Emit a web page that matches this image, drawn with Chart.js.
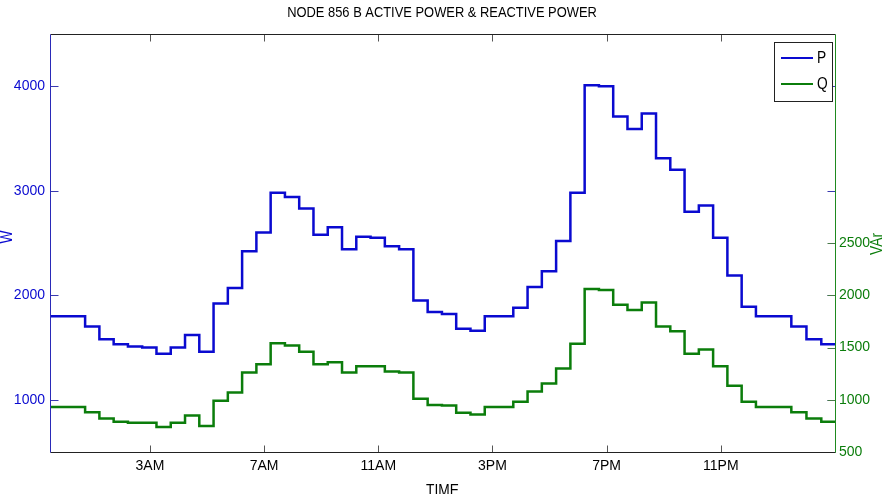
<!DOCTYPE html>
<html>
<head>
<meta charset="utf-8">
<style>
html,body{margin:0;padding:0;background:#fff}
#wrap{width:886px;height:494px}
</style>
<script src="https://cdn.jsdelivr.net/npm/chart.js@4.4.1/dist/chart.umd.min.js"></script>
</head>
<body>
<div id="wrap"><canvas id="c" width="886" height="494"></canvas></div>
<script>
// node 856 B - half-hourly stairs of active (W) and reactive (VAr) power
const stepTimes = [-0.5, 0.73, 1.23, 1.73, 2.23, 2.73, 3.23, 3.73, 4.23, 4.73, 5.23,
  5.73, 6.23, 6.73, 7.23, 7.73, 8.23, 8.73, 9.23, 9.73, 10.23,
  10.73, 11.23, 11.73, 12.23, 12.73, 13.23, 13.73, 14.23, 14.73, 15.23,
  15.73, 16.23, 16.73, 17.23, 17.73, 18.23, 18.73, 19.23, 19.73, 20.23,
  20.73, 21.23, 21.73, 22.23, 22.73, 23.23, 23.73, 24.23,
  25.47, 26.0, 26.52, 27];
const activeP = [1800, 1700, 1580, 1530, 1510, 1500, 1440, 1500, 1620, 1460, 1920,
  2070, 2420, 2600, 2980, 2940, 2830, 2580, 2650, 2440, 2560,
  2550, 2470, 2440, 1950, 1840, 1820, 1680, 1660, 1800, 1800,
  1880, 2080, 2230, 2520, 2980, 4010, 4000, 3710, 3590, 3740,
  3310, 3200, 2800, 2860, 2550, 2190, 1890, 1800,
  1700, 1580, 1530, 1530];
const reactiveQ = [930, 880, 820, 790, 780, 780, 740, 780, 850, 750, 990,
  1070, 1260, 1340, 1540, 1520, 1460, 1340, 1360, 1260, 1320,
  1320, 1270, 1260, 1010, 950, 945, 875, 860, 930, 930,
  980, 1080, 1155, 1300, 1535, 2060, 2050, 1910, 1860, 1930,
  1700, 1655, 1440, 1480, 1320, 1135, 980, 930,
  880, 820, 790, 790];
const hourTicks = [3, 7, 11, 15, 19, 23];
const hourLabels = ['3AM', '7AM', '11AM', '3PM', '7PM', '11PM'];
const wTicks = [1000, 2000, 3000, 4000];
const varTicks = [500, 1000, 1500, 2000, 2500];

const FONT = "'Liberation Sans',Arial,sans-serif";
const BLUE = '#0a0ad0', GREEN = '#0b7d0b';

const toPts = vals => vals.map((v, i) => ({x: stepTimes[i], y: v}));

// text squeezed sideways, the original uses a narrow face
function narrowText(ctx, txt, x, y, rot) {
  ctx.save();
  ctx.translate(x, y);
  if (rot) ctx.rotate(rot);
  ctx.scale(0.86, 1);
  ctx.fillText(txt, 0, 0);
  ctx.restore();
}

const framePlugin = {
  id: 'frame',
  afterDraw(chart) {
    const {ctx, chartArea: a, scales: {x, y, y1}} = chart;
    const line = (x1, y1_, x2, y2, col, w) => {
      ctx.strokeStyle = col; ctx.lineWidth = w || 1;
      ctx.beginPath(); ctx.moveTo(x1, y1_); ctx.lineTo(x2, y2); ctx.stroke();
    };
    ctx.save();
    const L = Math.round(a.left) + 0.5, R = Math.round(a.right) + 0.5;
    const T = Math.round(a.top) + 0.5, B = Math.round(a.bottom) + 0.5;
    // inward ticks
    hourTicks.forEach(v => {
      const px = Math.round(x.getPixelForValue(v)) + 0.5;
      line(px, B, px, B - 7, '#555');
      line(px, T, px, T + 7, '#555');
    });
    wTicks.forEach(v => {
      const py = Math.round(y.getPixelForValue(v)) + 0.5;
      line(L, py, L + 8, py, '#3a3ab0');
      line(R, py, R - 8, py, '#3a3ab0');
    });
    varTicks.forEach(v => {
      const py = Math.round(y1.getPixelForValue(v)) + 0.5;
      line(R, py, R - 8, py, '#4a7a4a');
    });
    // box
    line(L, T, R, T, '#222');
    line(L, B, R, B, '#222');
    line(L, T, L, B, '#2a2ab8');
    line(R, T, R, B, '#1f8a1f');

    // title + axis titles
    ctx.font = '15px ' + FONT;
    ctx.fillStyle = '#000';
    ctx.textAlign = 'center'; ctx.textBaseline = 'middle';
    narrowText(ctx, 'NODE 856 B ACTIVE POWER & REACTIVE POWER', 442, 13);
    ctx.font = '16px ' + FONT;
    ctx.textBaseline = 'alphabetic';
    narrowText(ctx, 'TIME', (a.left + a.right) / 2, 496);
    ctx.textBaseline = 'middle';
    ctx.fillStyle = BLUE;
    narrowText(ctx, 'W', 8, 237, -Math.PI / 2);
    ctx.fillStyle = GREEN;
    narrowText(ctx, 'VAr', 878, 244, -Math.PI / 2);

    // legend box (top right, inside)
    const lx = 774.5, ly = 42.5, lw = 58, lh = 59;
    ctx.fillStyle = '#fff';
    ctx.fillRect(lx, ly, lw, lh);
    ctx.strokeStyle = '#222'; ctx.lineWidth = 1;
    ctx.strokeRect(lx, ly, lw, lh);
    ctx.font = '16px ' + FONT;
    ctx.textAlign = 'left';
    chart.data.datasets.forEach((ds, i) => {
      const yy = 58 + i * 26;
      line(781, yy, 813, yy, ds.borderColor, 2);
      ctx.fillStyle = '#000';
      narrowText(ctx, ds.label, 817, yy + 1);
    });
    ctx.restore();
  }
};

const tickFont = {family: FONT, size: 14};

new Chart(document.getElementById('c').getContext('2d'), {
  type: 'line',
  data: {
    datasets: [
      {label: 'P', data: toPts(activeP), yAxisID: 'y', borderColor: BLUE, borderWidth: 2.5, stepped: true, pointRadius: 0, fill: false},
      {label: 'Q', data: toPts(reactiveQ), yAxisID: 'y1', borderColor: GREEN, borderWidth: 2.5, stepped: true, pointRadius: 0, fill: false}
    ]
  },
  options: {
    responsive: false,
    animation: false,
    layout: {padding: {top: 34, left: 0, right: 0, bottom: 0}},
    plugins: {legend: {display: false}, tooltip: {enabled: false}},
    scales: {
      x: {
        type: 'linear', min: -0.5, max: 27,
        afterBuildTicks: s => { s.ticks = hourTicks.map(v => ({value: v})); },
        afterFit: s => { s.height = 42; },
        ticks: {callback: (v, i) => hourLabels[i], color: '#000', padding: 6, maxRotation: 0, autoSkip: false, font: tickFont},
        grid: {display: false, drawTicks: false},
        border: {display: false}
      },
      y: {
        position: 'left', min: 500, max: 4500,
        afterBuildTicks: s => { s.ticks = wTicks.map(v => ({value: v})); },
        afterFit: s => { s.width = 50; },
        ticks: {callback: v => String(v), color: BLUE, padding: 5, font: tickFont},
        grid: {display: false, drawTicks: false},
        border: {display: false}
      },
      y1: {
        position: 'right', min: 500, max: 4500,
        afterBuildTicks: s => { s.ticks = varTicks.map(v => ({value: v})); },
        afterFit: s => { s.width = 51; },
        ticks: {callback: v => String(v), color: GREEN, padding: 4, font: tickFont},
        grid: {display: false, drawTicks: false},
        border: {display: false}
      }
    }
  },
  plugins: [framePlugin]
});
</script>
</body>
</html>
